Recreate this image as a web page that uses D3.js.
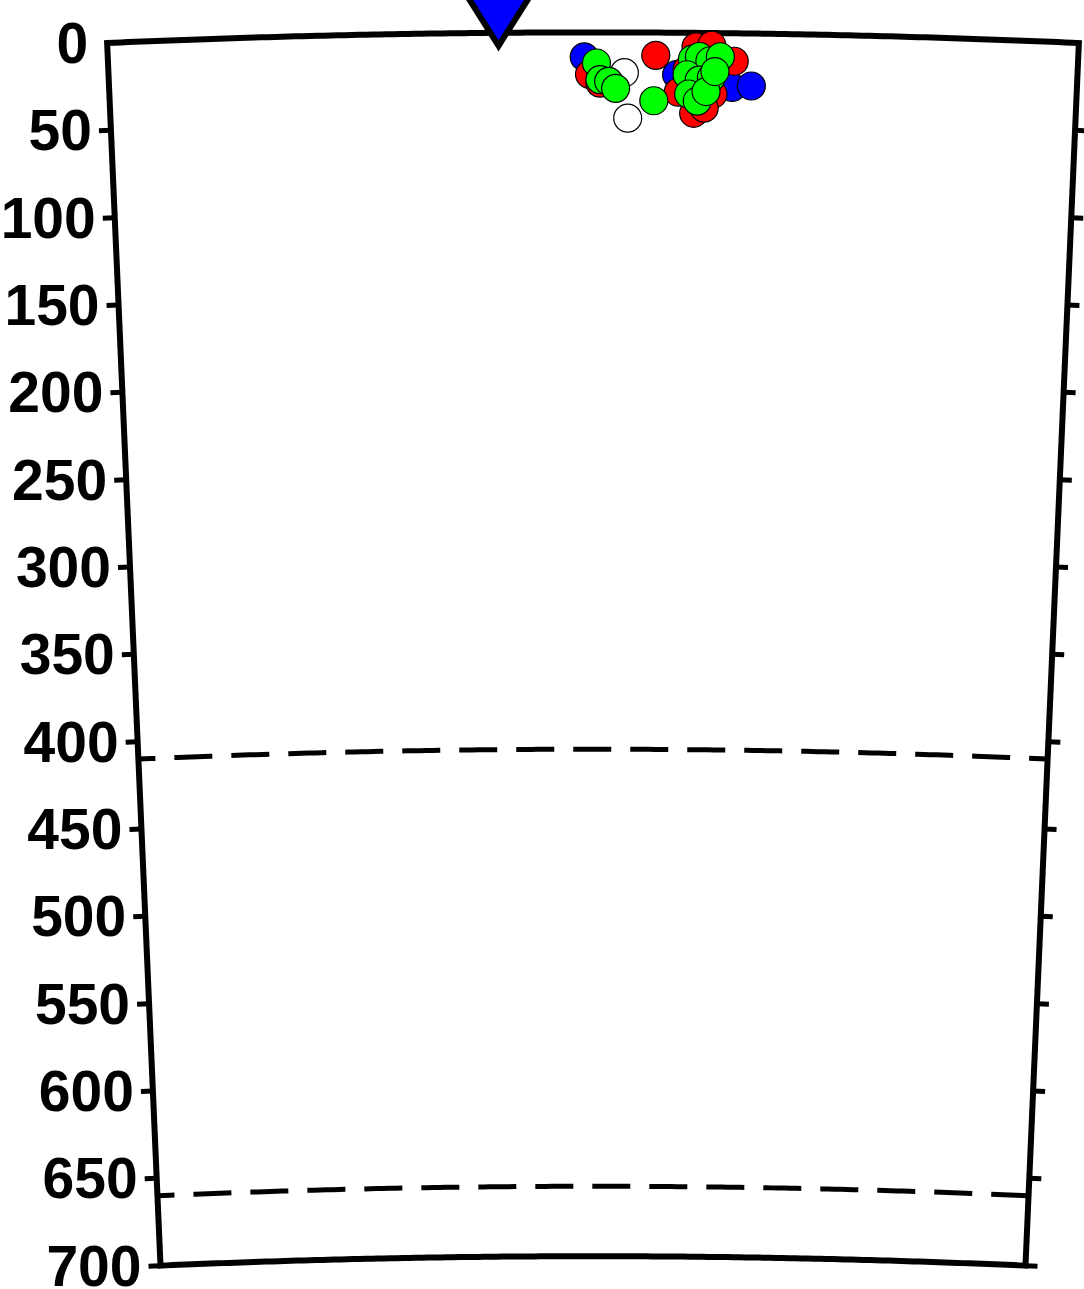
<!DOCTYPE html>
<html>
<head>
<meta charset="utf-8">
<script src="https://cdn.jsdelivr.net/npm/d3@7"></script>
<style>
  html, body { margin: 0; padding: 0; background: #fff; }
  svg { display: block; }
</style>
</head>
<body>
<svg id="chart" width="1084" height="1289"></svg>
<script>
// ---- data ----
const depthTicks = [0, 50, 100, 150, 200, 250, 300, 350, 400, 450, 500, 550, 600, 650, 700];
const depthLabels = ["0","50","100","150","200","250","300","350","400","450","500","550","600","650","700"];
const discontinuities = [410, 660];          // km, dashed lines
const distanceRange = [0, 556];               // km along the profile
const depthRange = [0, 700];                  // km
const stationDist = [224];                    // km along profile

// [distance km, depth km]
const blueEvents = [[273, 14], [326, 24], [358, 31], [369, 30]];
const redEvents = [[276, 24], [282, 29], [314, 13], [337, 8], [346, 7], [359, 16],
                   [332, 21], [327, 34], [336, 46], [347, 35], [342, 43]];
const whiteEvents = [[296, 23], [298, 49]];
const greenEvents = [[280, 17.5], [282, 27], [287, 28], [291, 32], [313, 39],
                     [335, 15], [339, 13.5], [345, 16], [351, 13.5], [332, 24],
                     [339, 27], [346, 25.5], [333, 35], [338, 39], [343, 33.5], [348, 22]];

// ---- geometry (polar cross-section) ----
const svg = d3.select("#chart");
const cx = 593, R0 = 11139, k = 1.7483;
const halfAng = 0.043633;
const cy = 43 + R0 * Math.cos(halfAng);

const angle = d3.scaleLinear().domain(distanceRange).range([-halfAng, halfAng]);
const radius = d3.scaleLinear().domain(depthRange).range([R0, R0 - 700 * k]);

function proj(dist, depth) {
  const a = angle(dist), r = radius(depth);
  return [cx + r * Math.sin(a), cy - r * Math.cos(a)];
}

svg.append("rect").attr("width", 1084).attr("height", 1289).attr("fill", "#fff");

const line = d3.line();
const steps = d3.range(distanceRange[0], distanceRange[1] + 0.001, 4);
if (steps[steps.length - 1] !== distanceRange[1]) steps.push(distanceRange[1]);

// dashed discontinuities
discontinuities.forEach(dp => {
  svg.append("path")
    .attr("d", line(steps.map(d => proj(d, dp))))
    .attr("fill", "none")
    .attr("stroke", "#000")
    .attr("stroke-width", 5)
    .attr("stroke-dasharray", "38,19")
    .attr("stroke-dashoffset", 21);
});

// frame
const framePts = []
  .concat(steps.map(d => proj(d, depthRange[0])))
  .concat([proj(distanceRange[1], depthRange[1])])
  .concat(steps.slice().reverse().map(d => proj(d, depthRange[1])));
svg.append("path")
  .attr("d", line(framePts) + "Z")
  .attr("fill", "none")
  .attr("stroke", "#000")
  .attr("stroke-width", 6)
  .attr("stroke-linejoin", "miter");

// ticks and labels
const tickLen = 12;
depthTicks.forEach((dp, i) => {
  const aL = angle(distanceRange[0]);
  const pL = proj(distanceRange[0], dp);
  const pR = proj(distanceRange[1], dp);
  const aR = angle(distanceRange[1]);
  if (dp !== 0) {
    svg.append("line")
      .attr("x1", pL[0]).attr("y1", pL[1])
      .attr("x2", pL[0] - tickLen * Math.cos(aL)).attr("y2", pL[1] - tickLen * Math.sin(aL))
      .attr("stroke", "#000").attr("stroke-width", 5);
    svg.append("line")
      .attr("x1", pR[0]).attr("y1", pR[1])
      .attr("x2", pR[0] + tickLen * Math.cos(aR)).attr("y2", pR[1] + tickLen * Math.sin(aR))
      .attr("stroke", "#000").attr("stroke-width", 5);
  }
  svg.append("text")
    .attr("x", pL[0] - 19)
    .attr("y", pL[1] + 20)
    .attr("text-anchor", "end")
    .attr("font-family", "'Liberation Sans', Arial, Helvetica, sans-serif")
    .attr("font-weight", "bold")
    .attr("font-size", 57)
    .attr("fill", "#000")
    .text(depthLabels[i]);
});

// events
function drawEvents(data, fill) {
  svg.append("g").selectAll("circle")
    .data(data).join("circle")
    .attr("cx", d => proj(d[0], d[1])[0])
    .attr("cy", d => proj(d[0], d[1])[1])
    .attr("r", 14)
    .attr("fill", fill)
    .attr("stroke", "#000")
    .attr("stroke-width", 1.2);
}
drawEvents(blueEvents, "#0000ff");
drawEvents(redEvents, "#ff0000");
drawEvents(whiteEvents, "#ffffff");
drawEvents(greenEvents, "#00ff00");

// station (inverted triangle at surface)
svg.append("g").selectAll("path")
  .data(stationDist).join("path")
  .attr("transform", d => { const p = proj(d, 0); return `translate(${p[0]},${p[1]})`; })
  .attr("d", "M-36,-44L36,-44L0,13Z")
  .attr("fill", "#0000ff")
  .attr("stroke", "#000")
  .attr("stroke-width", 6)
  .attr("stroke-linejoin", "miter");
</script>
</body>
</html>
